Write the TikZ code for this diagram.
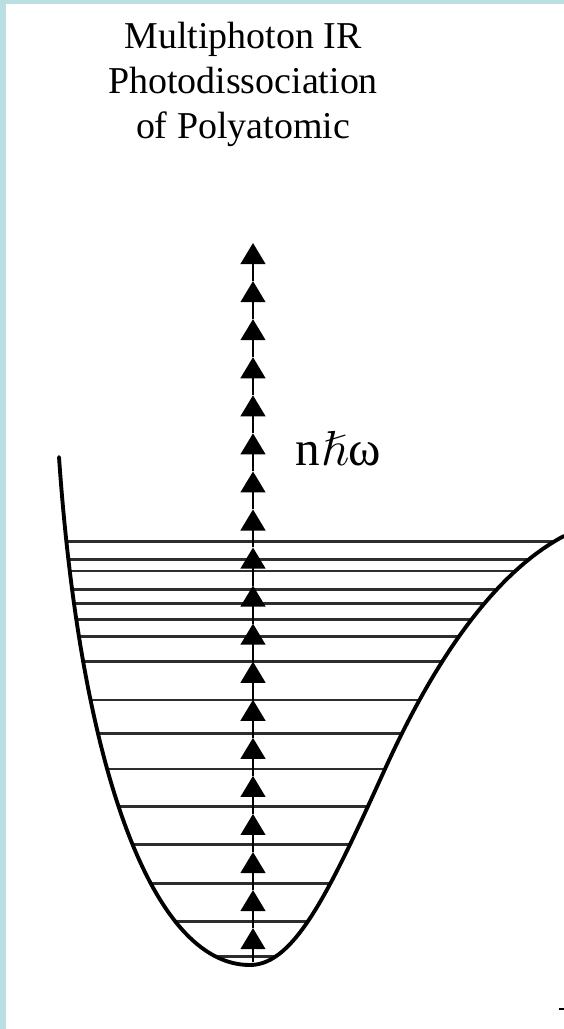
\documentclass[tikz,border=0pt]{standalone}
\usepackage{amssymb}
\usepackage{fontspec}
\setmainfont{Liberation Serif}
\usetikzlibrary{arrows.meta}
\definecolor{frameblue}{RGB}{186,223,226}
\definecolor{levelgray}{RGB}{45,45,45}

\begin{document}
\begin{tikzpicture}[x=0.02cm, y=-0.02cm, >={Triangle[width=14pt,length=12pt]},
  well/.style={line width=2.2pt, line join=round, line cap=round},
  level/.style={line width=1.5pt, levelgray},
  photon/.style={->, line width=1.5pt}]
%
\useasboundingbox (0,0) rectangle (564,1029);
\fill[frameblue] (0,0) rectangle (564,1029);
\fill[white] (6,4) rectangle (564,1029);
%
% vibrational levels, cut by the well
\begin{scope}
\clip (59,457) .. controls (80,760) and (150,965) .. (250,965)
  .. controls (295,965) and (330,890) .. (385,769)
  .. controls (430,670) and (490,575) .. (564,536) -- cycle;
\foreach \y in {541.7,559.3,571,589.3,603.3,619.3,636.7,661.7,700,733.3,769,806.7,844.3,883.3,921.7,956.7}
  \draw[level] (0,\y) -- (564,\y);
\end{scope}
%
% potential well
\draw[well] (59,457) .. controls (80,760) and (150,965) .. (250,965)
  .. controls (295,965) and (330,890) .. (385,769)
  .. controls (430,670) and (490,575) .. (564,536);
%
% photon ladder
\foreach \k in {0,...,18}
  \coordinate (ph\k) at (253,{243+38.06*\k});
\coordinate (ph19) at (253,962);
\foreach \k [evaluate=\k as \j using int(\k+1)] in {0,...,18}
  \draw[photon] (ph\j) -- (ph\k);
%
\node (title) [anchor=north, align=center, inner sep=0pt, font=\fontsize{21.6}{25.5}\selectfont] at (243,22)
  {Multiphoton IR\\Photodissociation\\of Polyatomic};
\node (nhw) [anchor=base west, inner sep=0pt, font=\fontsize{28}{30}\selectfont] at (295,465) {n\kern1pt$\hslash$ω};
%
\draw[line width=1pt] (559,1009) -- (564,1009);
\end{tikzpicture}
\end{document}
